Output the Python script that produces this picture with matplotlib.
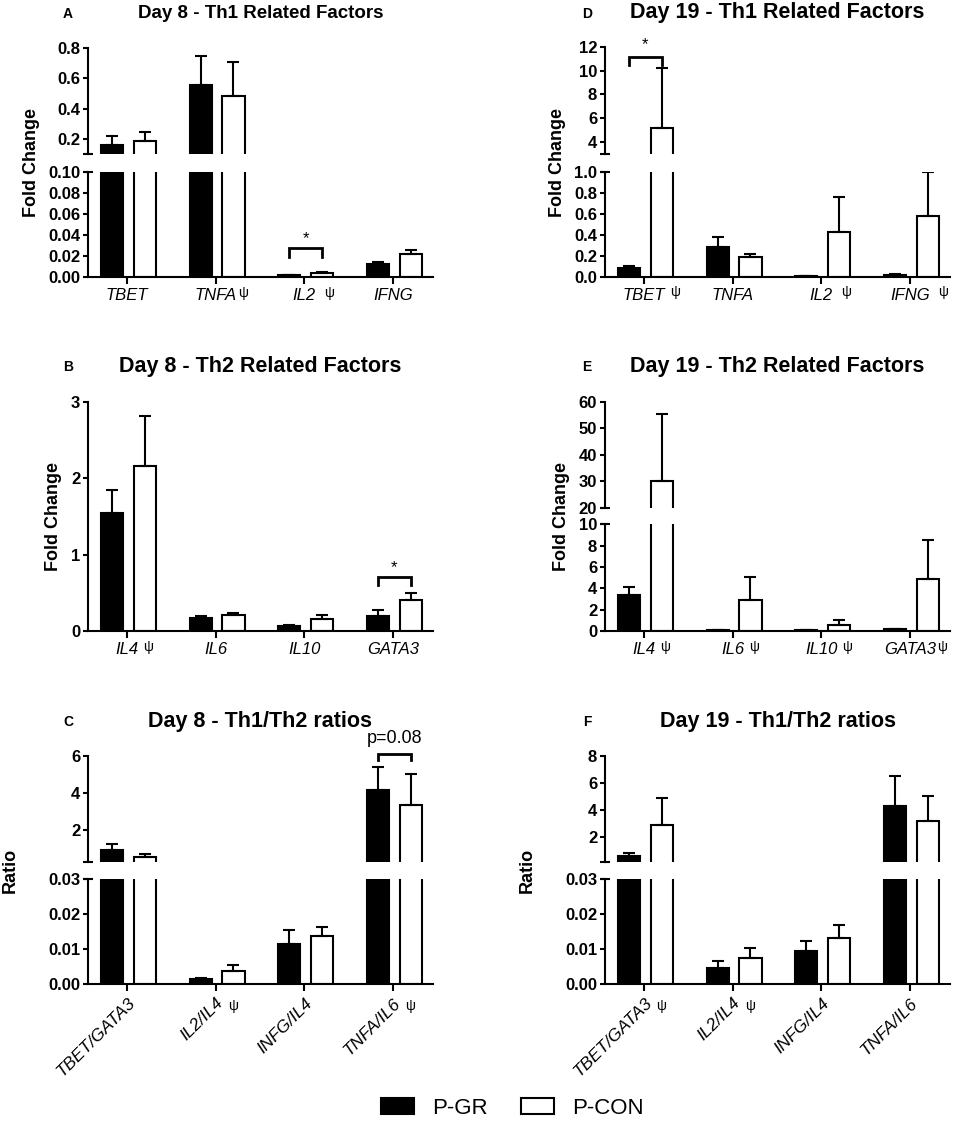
import numpy as np
import matplotlib.pyplot as plt
from matplotlib.patches import Patch

plt.rcParams['font.family'] = ['Liberation Sans', 'DejaVu Sans']

W, H = 957, 1121
PSI = '\u03c8'

# ---- data (P-GR = black, P-CON = white), error = upper SEM ----
# A: Day 8 Th1
a_labels = ['TBET', 'TNFA' + PSI, 'IL2  ' + PSI, 'IFNG']
a_gr = [0.16, 0.556, 0.0015, 0.012]
a_gr_err = [0.06, 0.19, 0.0005, 0.0026]
a_con = [0.187, 0.485, 0.004, 0.022]
a_con_err = [0.058, 0.22, 0.001, 0.004]

# D: Day 19 Th1
d_labels = ['TBET ' + PSI, 'TNFA', 'IL2  ' + PSI, 'IFNG  ' + PSI]
d_gr = [0.08, 0.286, 0.008, 0.018]
d_gr_err = [0.025, 0.09, 0.002, 0.004]
d_con = [5.2, 0.185, 0.423, 0.578]
d_con_err = [5.0, 0.031, 0.333, 0.417]

# B: Day 8 Th2
b_labels = ['IL4 ' + PSI, 'IL6', 'IL10', 'GATA3']
b_gr = [1.54, 0.166, 0.065, 0.196]
b_gr_err = [0.30, 0.03, 0.013, 0.074]
b_con = [2.16, 0.205, 0.157, 0.405]
b_con_err = [0.65, 0.035, 0.053, 0.095]

# E: Day 19 Th2
e_labels = ['IL4 ' + PSI, 'IL6 ' + PSI, 'IL10 ' + PSI, 'GATA3' + PSI]
e_gr = [3.37, 0.1, 0.1, 0.15]
e_gr_err = [0.73, 0.02, 0.02, 0.03]
e_con = [30.0, 2.9, 0.56, 4.84]
e_con_err = [25.4, 2.13, 0.47, 3.69]

# C: Day 8 ratios
c_labels = ['TBET/GATA3', 'IL2/IL4 ' + PSI, 'INFG/IL4', 'TNFA/IL6 ' + PSI]
c_gr = [0.925, 0.0014, 0.0114, 4.15]
c_gr_err = [0.335, 0.0003, 0.0041, 1.25]
c_con = [0.565, 0.0039, 0.0138, 3.34]
c_con_err = [0.125, 0.0016, 0.0027, 1.67]

# F: Day 19 ratios
f_labels = ['TBET/GATA3 ' + PSI, 'IL2/IL4 ' + PSI, 'INFG/IL4', 'TNFA/IL6']
f_gr = [0.57, 0.0047, 0.0096, 4.3]
f_gr_err = [0.2, 0.002, 0.0028, 2.2]
f_con = [2.87, 0.0076, 0.0133, 3.18]
f_con_err = [1.97, 0.0027, 0.0036, 1.82]

OFF_GR, OFF_CON, BW = -0.17, 0.20, 0.25

fig = plt.figure(figsize=(W / 100, H / 100), dpi=100)
psi_jobs = []


def px_axes(x0, x1, ytop, ybot):
    return fig.add_axes([x0 / W, 1 - ybot / H, (x1 - x0) / W, (ybot - ytop) / H])


def draw_bars(ax, lo, gr, gr_err, con, con_err):
    x = np.arange(len(gr))
    ax.bar(x + OFF_GR, gr, width=BW, color='black', edgecolor='black', linewidth=1.5)
    ax.bar(x + OFF_CON, con, width=BW, color='white', edgecolor='black', linewidth=1.5)
    for off, v, e in [(OFF_GR, gr, gr_err), (OFF_CON, con, con_err)]:
        v = np.array(v, float)
        e = np.array(e, float)
        keep = v + e > lo          # skip caps that sit below this segment
        ax.errorbar(x[keep] + off, v[keep], yerr=[np.zeros(keep.sum()), e[keep]],
                    fmt='none', ecolor='black', elinewidth=1.5, capsize=4.5, capthick=1.5)
    ax.set_xlim(-0.44, 3.45)


def panel(x0, x1, segs, labels, gr, gr_err, con, con_err, rotated=False):
    axes = []
    n = len(segs)
    for k, (ytop, ybot, lim, ticks, fmt) in enumerate(segs):
        ax = px_axes(x0, x1, ytop, ybot)
        draw_bars(ax, lim[0], gr, gr_err, con, con_err)
        ax.set_ylim(*lim)
        ax.set_yticks(ticks, [fmt % t for t in ticks], fontweight='bold', fontsize=12)
        ax.spines['top'].set_visible(False)
        ax.spines['right'].set_visible(False)
        ax.spines['left'].set_linewidth(1.5)
        ax.tick_params(axis='y', length=3.6, width=1.5, pad=2)
        wpx = x1 - x0
        last = (k == n - 1)
        if n > 1:
            yb = 1 if last else 0
            ax.plot([-5 / wpx, 5 / wpx], [yb, yb], transform=ax.transAxes,
                    color='black', lw=1.5, clip_on=False, solid_capstyle='butt')
        if last:
            ax.spines['bottom'].set_linewidth(1.5)
            ax.tick_params(axis='x', length=5, width=1.5, pad=3)
            names = [l.replace(PSI, '').strip() for l in labels]
            if rotated:
                ax.set_xticks(range(len(names)), names, fontstyle='italic', fontsize=12.5,
                              rotation=45, ha='right', rotation_mode='anchor')
            else:
                ax.set_xticks(range(len(names)), names, fontstyle='italic', fontsize=12)
            for i, l in enumerate(labels):
                if PSI in l:
                    psi_jobs.append((ax, i, l.count(' '), rotated))
        else:
            ax.spines['bottom'].set_visible(False)
            ax.tick_params(axis='x', bottom=False, labelbottom=False)
        axes.append(ax)
    return axes


def bracket(ax, i, y, leg, text, ty, size=12):
    xa, xb = i + OFF_GR, i + OFF_CON
    ax.plot([xa, xa, xb, xb], [leg, y, y, leg], color='black', lw=2, clip_on=False,
            solid_joinstyle='miter')
    ax.text((xa + xb) / 2, ty, text, ha='center', va='center', fontsize=size, clip_on=False)


# ---- panels ----
LX0, LX1, RX0, RX1 = 88, 433, 605, 950

pa = panel(LX0, LX1, [(48, 154, (0.1, 0.8), [0.2, 0.4, 0.6, 0.8], '%.1f'),
                      (172, 277, (0, 0.1), [0, 0.02, 0.04, 0.06, 0.08, 0.10], '%.2f')],
           a_labels, a_gr, a_gr_err, a_con, a_con_err)
bracket(pa[1], 2, 0.0276, 0.019, '*', 0.037)

pd = panel(RX0, RX1, [(46.7, 154, (3, 12), [4, 6, 8, 10, 12], '%d'),
                      (171.7, 276.7, (0, 1), [0, 0.2, 0.4, 0.6, 0.8, 1.0], '%.1f')],
           d_labels, d_gr, d_gr_err, d_con, d_con_err)
bracket(pd[0], 0, 11.1, 10.5, '*', 12.2)

pb = panel(LX0, LX1, [(401.7, 631, (0, 3), [0, 1, 2, 3], '%d')],
           b_labels, b_gr, b_gr_err, b_con, b_con_err)
bracket(pb[0], 3, 0.70, 0.60, '*', 0.83)

pe = panel(RX0, RX1, [(401.7, 507.7, (20, 60), [20, 30, 40, 50, 60], '%d'),
                      (524.3, 631, (0, 10), [0, 2, 4, 6, 8, 10], '%d')],
           e_labels, e_gr, e_gr_err, e_con, e_con_err)

pc = panel(LX0, LX1, [(755.7, 861.7, (0.3, 6), [2, 4, 6], '%d'),
                      (879.3, 984.3, (0, 0.03), [0, 0.01, 0.02, 0.03], '%.2f')],
           c_labels, c_gr, c_gr_err, c_con, c_con_err, rotated=True)
bracket(pc[0], 3, 6.09, 5.75, 'p=0.08', 6.95, size=13)

pf = panel(RX0, RX1, [(755.7, 861.7, (0.15, 8), [2, 4, 6, 8], '%d'),
                      (879.3, 984.3, (0, 0.03), [0, 0.01, 0.02, 0.03], '%.2f')],
           f_labels, f_gr, f_gr_err, f_con, f_con_err, rotated=True)

# ---- titles, letters, y labels ----
titles = [('Day 8 - Th1 Related Factors', 260.5, 18, 13.5),
          ('Day 19 - Th1 Related Factors', 777.5, 18, 15.5),
          ('Day 8 - Th2 Related Factors', 260.5, 372, 15.5),
          ('Day 19 - Th2 Related Factors', 777.5, 372, 15.5),
          ('Day 8 - Th1/Th2 ratios', 260.5, 727, 15.5),
          ('Day 19 - Th1/Th2 ratios', 777.5, 727, 15.5)]
for t, x, y, s in titles:
    fig.text(x / W, 1 - y / H, t, ha='center', va='baseline', fontsize=s, fontweight='bold')

for t, x, y in [('A', 68, 18), ('D', 587, 18), ('B', 68, 371), ('E', 587, 371),
                ('C', 68, 726), ('F', 587, 726)]:
    fig.text(x / W, 1 - y / H, t, ha='center', va='baseline', fontsize=10, fontweight='bold')

for t, x, y in [('Fold Change', 32, 162.5), ('Fold Change', 558, 162.5),
                ('Fold Change', 54, 516.7), ('Fold Change', 562, 516.7),
                ('Ratio', 10, 870), ('Ratio', 527, 870)]:
    fig.text(x / W, 1 - y / H, t, ha='center', va='center', rotation=90,
             fontsize=13, fontweight='bold')

# ---- psi marks next to tick labels ----
fig.canvas.draw()
renderer = fig.canvas.get_renderer()
for ax, i, nsp, rot in psi_jobs:
    if rot:
        xd = ax.transData.transform((i, 0))[0]
        yd = ax.transAxes.transform((0, 0))[1]
        fig.text((xd + 17) / W, (yd - 22) / H, PSI, ha='center', va='center', fontsize=10)
    else:
        bb = ax.get_xticklabels()[i].get_window_extent(renderer)
        gap = 1 + 3.5 * nsp
        base = bb.y0 + 0.21 * 12 * 100 / 72
        fig.text((bb.x1 + gap) / W, base / H, PSI, ha='left', va='bottom', fontsize=10)

# ---- legend ----
handles = [Patch(facecolor='black', edgecolor='black', linewidth=1.5),
           Patch(facecolor='white', edgecolor='black', linewidth=1.5)]
fig.legend(handles, ['P-GR', 'P-CON'], loc='center', bbox_to_anchor=(512 / W, 1 - 1108 / H),
           ncol=2, frameon=False, fontsize=16, handlelength=1.5, handleheight=0.75,
           handletextpad=0.8, columnspacing=1.5)

fig.savefig('out.png', dpi=100)
